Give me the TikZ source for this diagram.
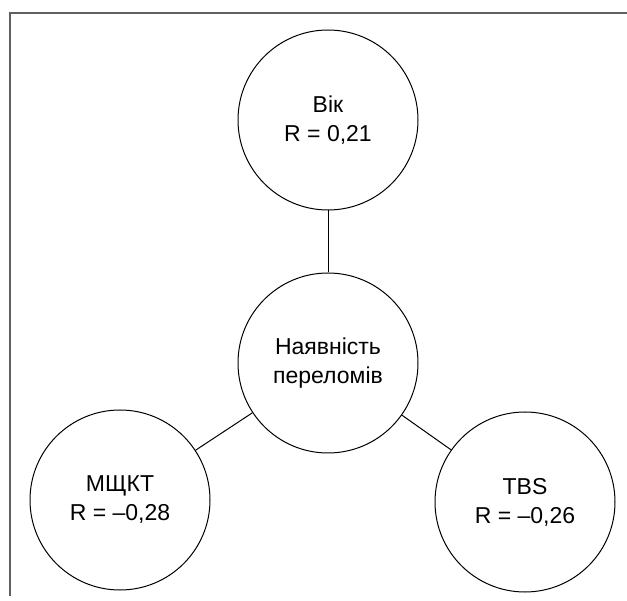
\documentclass[tikz,border=0pt]{standalone}
\usepackage{fontspec}
\setmainfont{Liberation Sans}
\definecolor{framegray}{HTML}{606060}
\tikzset{
    factor/.style={draw, circle, line width=1pt, minimum size=180pt, inner sep=0pt,
        align=center, font=\fontsize{23}{29}\selectfont},
}
\begin{document}
\begin{tikzpicture}[x=1pt, y=-1pt]
    \useasboundingbox (0,0) rectangle (627,601);
    \draw[framegray, line width=2pt] (9.5,596)--(9.5,13)--(627,13);

    \node[factor] (fract) at (328,363) {Наявність\\переломів};
    \node[factor] (age) at (328,120) {Вік\\R = 0,21};
    \node[factor] (bmd) at (120,500) {МЩКТ\\R = –0,28};
    \node[factor] (tbs) at (525,502) {TBS\\R = –0,26};

\foreach \n in {age,bmd,tbs}
{
    \draw[line width=1pt] (fract)--(\n);
}
\end{tikzpicture}
\end{document}
